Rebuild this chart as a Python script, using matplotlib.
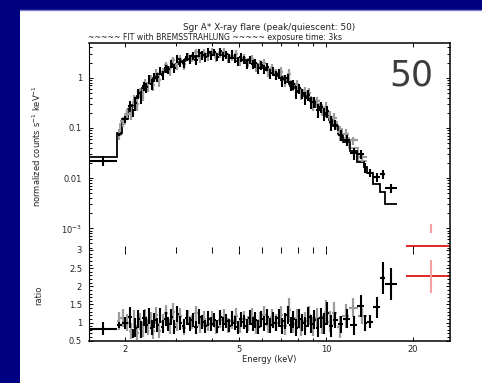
import numpy as np
import matplotlib
matplotlib.use("Agg")
import matplotlib.pyplot as plt
from matplotlib.patches import Rectangle
from matplotlib.lines import Line2D
from matplotlib.ticker import FixedLocator, FixedFormatter, NullFormatter, MultipleLocator

# ---- data ----
# dataset 1 (black): bin edges (keV), folded model (counts/s/keV), data/model ratio, ratio error
blk_edges = [1.50, 1.87, 1.95, 2.05, 2.11,
             2.15, 2.20, 2.25, 2.30, 2.35, 2.40, 2.45, 2.50, 2.56, 2.62, 2.68, 2.74, 2.80, 2.86, 2.93, 3.00,
             3.08, 3.16, 3.24, 3.32, 3.40, 3.49, 3.58, 3.67, 3.76, 3.85, 3.94, 4.04, 4.14, 4.24, 4.34, 4.44,
             4.55, 4.66, 4.77, 4.88, 5.00, 5.12, 5.24, 5.36, 5.49, 5.62, 5.75, 5.88, 6.02,
             6.17, 6.32, 6.47, 6.62, 6.78, 6.94, 7.10, 7.27, 7.44, 7.62, 7.80, 7.99, 8.18, 8.38, 8.58, 8.79,
             9.01, 9.24, 9.48, 9.73, 9.99, 10.26, 10.55,
             11.00, 11.50, 12.10, 12.85, 13.55, 13.90, 14.60, 15.40, 16.10, 17.60]
blk_model = [0.0268, 0.080, 0.15, 0.24, 0.29,
             0.36, 0.44, 0.52, 0.61, 0.70, 0.79, 0.88, 0.98, 1.08, 1.18, 1.28, 1.39, 1.50, 1.63, 1.76,
             1.91, 2.05, 2.18, 2.31, 2.43, 2.54, 2.64, 2.73, 2.80, 2.86, 2.92, 2.96, 2.98, 2.96, 2.92, 2.86,
             2.79, 2.71, 2.62, 2.53,
             2.43, 2.33, 2.23, 2.13, 2.03, 1.93, 1.83, 1.73, 1.63, 1.53, 1.43, 1.34, 1.25, 1.16, 1.07, 0.98,
             0.90, 0.82, 0.75, 0.68,
             0.61, 0.55, 0.49, 0.44, 0.39, 0.345, 0.305, 0.266, 0.231, 0.199, 0.171, 0.145,
             0.110, 0.076, 0.052, 0.034, 0.021, 0.0165, 0.0125, 0.0075, 0.0054, 0.0031]
blk_ratio = [0.83, 0.93, 0.98, 1.14, 0.70,
             0.86, 1.10, 0.80, 1.12, 0.93, 1.18, 0.86, 1.06, 0.94, 1.20, 0.89, 1.10, 0.97, 1.15, 0.88,
             1.24, 0.99, 0.90, 1.13, 0.95, 1.07, 0.87, 1.16, 1.01, 0.90, 1.11, 0.96, 1.08, 0.89, 1.14, 0.95,
             1.05, 0.91, 1.12, 0.98,
             0.87, 1.09, 1.01, 0.90, 1.13, 0.95, 1.07, 0.88, 1.10, 0.97, 1.15, 0.92, 1.08, 0.98, 1.13, 0.90,
             1.05, 1.22, 0.93, 1.09,
             0.86, 1.11, 1.00, 0.91, 1.16, 0.95, 1.08, 0.86, 1.13, 0.97, 1.25, 0.90,
             1.06, 0.95, 1.10, 0.92, 1.46, 0.98, 1.02, 1.42, 2.23, 2.06]
blk_rerr = [0.18, 0.08, 0.16, 0.28, 0.12,
            0.26, 0.24, 0.23, 0.22, 0.21, 0.22, 0.20, 0.21, 0.19, 0.21, 0.19, 0.20, 0.19, 0.21, 0.19,
            0.22, 0.19, 0.19, 0.21, 0.19, 0.20, 0.18, 0.21, 0.19, 0.18, 0.21, 0.19, 0.19, 0.18, 0.21, 0.19,
            0.19, 0.18, 0.21, 0.19,
            0.18, 0.21, 0.19, 0.19, 0.21, 0.19, 0.21, 0.19, 0.21, 0.21, 0.22, 0.21, 0.22, 0.21, 0.24, 0.22,
            0.22, 0.25, 0.22, 0.24,
            0.24, 0.25, 0.24, 0.25, 0.27, 0.25, 0.27, 0.27, 0.28, 0.29, 0.31, 0.30,
            0.22, 0.24, 0.26, 0.26, 0.30, 0.22, 0.18, 0.29, 0.45, 0.44]

# dataset 2 (grey)
gry_edges = [1.87, 1.93, 2.00, 2.06, 2.13, 2.18, 2.23, 2.28, 2.33, 2.38, 2.43, 2.48, 2.54, 2.60, 2.67,
             2.74, 2.82, 2.90, 2.98, 3.07, 3.16, 3.26, 3.36, 3.47, 3.58, 3.70, 3.82, 3.95, 4.08, 4.22,
             4.36, 4.50, 4.65, 4.80, 4.96, 5.12, 5.29, 5.46, 5.64, 5.82, 6.01, 6.21, 6.41, 6.62, 6.84,
             7.07, 7.30, 7.54, 7.79, 8.05, 8.32, 8.60, 8.89, 9.19, 9.50, 9.82, 10.15, 10.50, 10.90,
             11.40, 12.00, 12.90, 13.90]
gry_model = [0.072, 0.12, 0.19, 0.26, 0.33, 0.41, 0.49, 0.58, 0.67, 0.76, 0.85, 0.95, 1.05, 1.16,
             1.28, 1.41, 1.57, 1.72, 1.88, 2.04, 2.19, 2.34, 2.47, 2.59, 2.70, 2.80, 2.88, 2.95, 2.96,
             2.91, 2.84, 2.75, 2.64, 2.52, 2.39, 2.26, 2.13, 2.00, 1.87, 1.74, 1.61, 1.48, 1.35, 1.22,
             1.10, 0.98, 0.87, 0.76, 0.66, 0.57, 0.49, 0.42, 0.355, 0.30, 0.25, 0.205, 0.165, 0.128,
             0.093, 0.064, 0.040, 0.022]
gry_ratio = [1.05, 1.12, 1.00, 0.78, 1.10, 0.72, 1.02, 0.80, 1.15, 0.88, 1.08, 0.76, 1.20, 0.78,
             1.02, 1.25, 0.90, 1.30, 0.96, 1.18, 0.85, 1.14, 1.02, 1.25, 0.92, 1.10, 0.96, 1.12, 0.88,
             1.06, 1.15, 0.92, 1.04, 1.18, 0.90, 1.10, 0.97, 1.16, 0.89, 1.08, 1.22, 0.92, 1.14, 1.00,
             1.20, 0.90, 1.35, 0.96, 1.12, 0.86, 1.05, 1.20, 0.88, 1.12, 0.95, 1.30, 1.02, 1.25, 0.88,
             1.18, 1.41, 1.18]
gry_rerr = [0.25, 0.25, 0.24, 0.22, 0.25, 0.20, 0.23, 0.21, 0.23, 0.21,
            0.22, 0.20, 0.23, 0.21, 0.21, 0.23, 0.21, 0.23, 0.20, 0.22,
            0.20, 0.21, 0.20, 0.22, 0.20, 0.21, 0.20, 0.21, 0.20, 0.21,
            0.22, 0.20, 0.21, 0.22, 0.20, 0.22, 0.21, 0.23, 0.21, 0.22,
            0.24, 0.22, 0.24, 0.23, 0.25, 0.23, 0.33, 0.24, 0.25, 0.24,
            0.25, 0.27, 0.26, 0.28, 0.27, 0.31, 0.29, 0.32, 0.30, 0.32,
            0.26, 0.21]

# dataset 3 (red), one wide bin above 19 keV
red_edges = [19.0, 28.3]
red_model = [4.5e-4]
red_ratio = [2.27]
red_rerr = [0.46]

title1 = "Sgr A* X-ray flare (peak/quiescent: 50)"
title2 = "~~~~~ FIT with BREMSSTRAHLUNG ~~~~~ exposure time: 3ks"
big_label = "50"

W, H = 482, 383
plt.rcParams['font.family'] = ['DejaVu Sans']


def bins(edges, model, ratio, rerr):
    e = np.array(edges)
    lo, hi = e[:-1], e[1:]
    c = np.sqrt(lo * hi)
    m, r, re = np.array(model), np.array(ratio), np.array(rerr)
    return lo, hi, c, m, r, re


fig = plt.figure(figsize=(W / 100, H / 100), dpi=100, facecolor='#000080')
fig.add_artist(Rectangle((20 / W, 0), 1, 1 - 10 / H, transform=fig.transFigure,
                         facecolor='white', edgecolor='none', zorder=0))
fig.add_artist(Line2D([20 / W, 1], [1 - 9.5 / H] * 2, transform=fig.transFigure,
                      color='#8080c8', lw=1, zorder=0))

ax1 = fig.add_axes([89 / W, 1 - 250 / H, 361 / W, 207 / H], facecolor='none')
ax2 = fig.add_axes([89 / W, 1 - 340.7 / H, 361 / W, 90.7 / H], facecolor='none')

series = [(gry_edges, gry_model, gry_ratio, gry_rerr, '#9c9c9c', 1.6),
          (blk_edges, blk_model, blk_ratio, blk_rerr, 'black', 1.5)]
for edges, model, ratio, rerr, col, lw in series:
    lo, hi, c, m, r, re = bins(edges, model, ratio, rerr)
    ax1.stairs(m, edges, baseline=None, color=col, lw=1.3)
    ax1.errorbar(c, m * r, yerr=m * re, xerr=[c - lo, hi - c], fmt='none',
                 ecolor=col, elinewidth=lw, capsize=0)
    ax2.errorbar(c, r, yerr=re, xerr=[c - lo, hi - c], fmt='none',
                 ecolor=col, elinewidth=lw, capsize=0)

lo, hi, c, m, r, re = bins(red_edges, red_model, red_ratio, red_rerr)
ax1.stairs(m, red_edges, baseline=None, color='#dd0000', lw=1.2)
ax1.errorbar(c, m * r, yerr=m * re, fmt='none', ecolor='#f4a0a0', elinewidth=1.5, capsize=0)
ax2.errorbar(c, r, xerr=[c - lo, hi - c], fmt='none', ecolor='#dd0000', elinewidth=1.2, capsize=0)
ax2.errorbar(c, r, yerr=re, fmt='none', ecolor='#f4a0a0', elinewidth=1.5, capsize=0)

for ax in (ax1, ax2):
    ax.set_xscale('log')
    ax.set_xlim(1.5, 27)
    ax.xaxis.set_major_locator(FixedLocator([2, 5, 10, 20]))
    ax.xaxis.set_minor_locator(FixedLocator([3, 4, 6, 7, 8, 9]))
    ax.xaxis.set_major_formatter(FixedFormatter(['2', '5', '10', '20']))
    ax.xaxis.set_minor_formatter(NullFormatter())
    ax.tick_params(which='both', direction='in', top=True, right=True, width=0.7,
                   labelsize=6, labelcolor='#222222', pad=5)
    ax.tick_params(axis='x', pad=3)
    ax.tick_params(which='major', length=3)
    ax.tick_params(which='minor', length=2)
    for s in ax.spines.values():
        s.set_linewidth(1.1)
    ax.spines['left'].set_linewidth(0.8)

ax1.set_yscale('log')
ax1.set_ylim(3.7e-4, 4.9)
ax1.yaxis.set_major_locator(FixedLocator([1e-3, 1e-2, 0.1, 1]))
ax1.yaxis.set_major_formatter(FixedFormatter(['$10^{-3}$', '0.01', '0.1', '1']))
ax1.yaxis.set_minor_locator(FixedLocator([k * 10.0 ** d for d in range(-4, 1) for k in range(2, 10)]))
ax1.yaxis.set_minor_formatter(NullFormatter())
ax1.tick_params(labelbottom=False)
ax1.spines['bottom'].set_visible(False)
ax1.set_ylabel('normalized counts s$^{-1}$ keV$^{-1}$', fontsize=6, color='#222222')
ax1.yaxis.set_label_coords(-46 / 361, 0.5)

ax2.set_ylim(0.5, 3)
ax2.yaxis.set_major_locator(FixedLocator([0.5, 1, 1.5, 2, 2.5, 3]))
ax2.yaxis.set_major_formatter(FixedFormatter(['0.5', '1', '1.5', '2', '2.5', '3']))
ax2.yaxis.set_minor_locator(MultipleLocator(0.1))
ax2.spines['top'].set_visible(False)
ax2.set_ylabel('ratio', fontsize=6, color='#222222')
ax2.yaxis.set_label_coords(-46 / 361, 0.5)
ax2.set_xlabel('Energy (keV)', fontsize=6, color='#222222', labelpad=1)

fig.text(269 / W, 1 - 27 / H, title1, fontsize=6.4, ha='center', va='center', color='#222222')
fig.text(88 / W, 1 - 37.5 / H, title2, fontsize=5.6, ha='left', va='center', color='#222222')
fig.text(411 / W, 1 - 75 / H, big_label, fontsize=25, ha='center', va='center', color='#3c3c3c')

fig.savefig('out.png', dpi=100, facecolor=fig.get_facecolor())
